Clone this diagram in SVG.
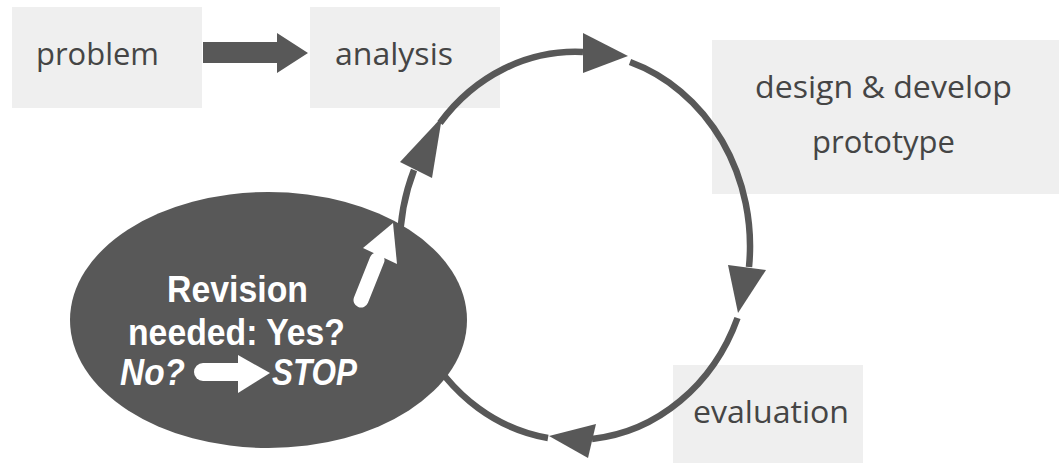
<svg xmlns="http://www.w3.org/2000/svg" width="1061" height="463" viewBox="0 0 1061 463">
  <style>
    .box { fill: #efefef; }
    .lbl { font-family: "Open Sans", "Liberation Sans", sans-serif; font-size: 31px; fill: #454545; }
    .arc { fill: none; stroke: #585858; stroke-width: 6.5; }
    .head { fill: #585858; }
    .dec { font-family: "Liberation Sans", "DejaVu Sans", sans-serif; font-weight: bold; font-size: 37px; fill: #ffffff; }
  </style>
  <rect width="1061" height="463" fill="#ffffff"/>
  <g id="problem">
    <rect class="box" x="12" y="7" width="190" height="101"/>
    <text class="lbl" x="36" y="65" textLength="123" lengthAdjust="spacingAndGlyphs">problem</text>
  </g>
  <g id="analysis">
    <rect class="box" x="310" y="7" width="190" height="101"/>
    <text class="lbl" x="335" y="65" textLength="118" lengthAdjust="spacingAndGlyphs">analysis</text>
  </g>
  <g id="design">
    <rect class="box" x="712" y="40" width="347" height="154"/>
    <text class="lbl" x="755" y="98" textLength="257" lengthAdjust="spacingAndGlyphs">design &amp; develop</text>
    <text class="lbl" x="812" y="153" textLength="143" lengthAdjust="spacingAndGlyphs">prototype</text>
  </g>
  <g id="evaluation">
    <rect class="box" x="673" y="365" width="190" height="98"/>
    <text class="lbl" x="693" y="423" textLength="156" lengthAdjust="spacingAndGlyphs">evaluation</text>
  </g>
  <g id="connectors">
    <polygon class="head" points="203,42 277,42 277,33 308,53 277,73 277,63 203,63"/>
    <path class="arc" d="M440,123 A175,194 0 0 1 583,52"/>
    <path class="arc" d="M630,62 A175,194 0 0 1 749,267"/>
    <path class="arc" d="M737.5,318 A175,194 0 0 1 592,439"/>
    <path class="arc" d="M548,438 A175,194 0 0 1 414,170"/>
    <polygon class="head" points="400,162 432,178 442,117"/>
    <polygon class="head" points="583,33 583,73 628,56"/>
    <polygon class="head" points="728,265 766,270 738,313"/>
    <polygon class="head" points="596,424 588,458 549,436"/>
  </g>
  <g id="revision">
    <ellipse cx="268.5" cy="320" rx="198.5" ry="128" fill="#585858"/>
    <line x1="361" y1="300" x2="377" y2="260" stroke="#ffffff" stroke-width="15" stroke-linecap="round"/>
    <polygon points="363,248 397,264 393,223" fill="#ffffff"/>
    <text class="dec" x="167" y="302" textLength="141" lengthAdjust="spacingAndGlyphs">Revision</text>
    <text class="dec" x="128" y="345" textLength="217" lengthAdjust="spacingAndGlyphs">needed: Yes?</text>
    <text class="dec" x="120" y="385" font-style="italic" textLength="65" lengthAdjust="spacingAndGlyphs">No?</text>
    <line x1="203" y1="372" x2="240" y2="372" stroke="#ffffff" stroke-width="18" stroke-linecap="round"/>
    <polygon points="238,355 270,373 238,393" fill="#ffffff"/>
    <text class="dec" x="272" y="385" font-style="italic" textLength="85" lengthAdjust="spacingAndGlyphs">STOP</text>
  </g>
</svg>
